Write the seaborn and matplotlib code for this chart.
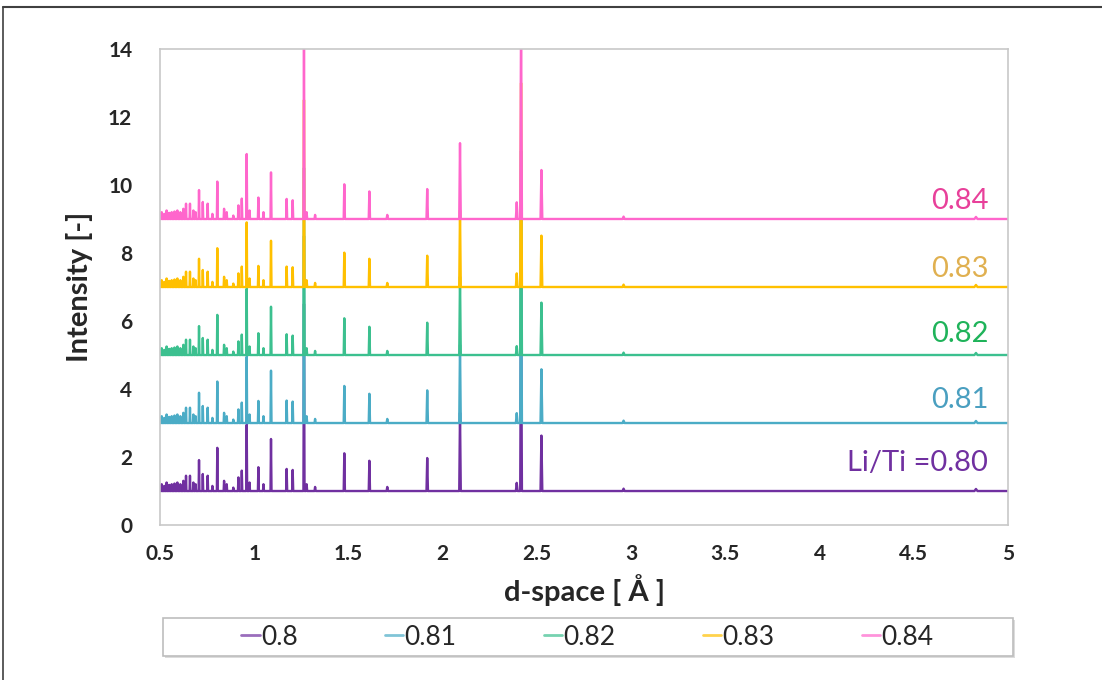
import numpy as np
import pandas as pd
import seaborn as sns
import matplotlib
matplotlib.use("Agg")
import matplotlib.pyplot as plt
from matplotlib.lines import Line2D
from matplotlib.patches import Rectangle

# Li/Ti ratios (one trace each), stacked with an offset of 2
ratios = ["0.8", "0.81", "0.82", "0.83", "0.84"]
offsets = [1, 3, 5, 7, 9]
end_labels = ["Li/Ti =0.80", "0.81", "0.82", "0.83", "0.84"]
label_y = [1.82, 3.68, 5.62, 7.53, 9.53]

line_colors = ["#7030a0", "#4bacc6", "#3cc08f", "#ffc000", "#ff66cc"]
text_colors = ["#7030a0", "#4a9fc0", "#1fb35a", "#e0b050", "#e8409a"]

# main reflections (d-space, A) and their heights above each baseline
d_major = [0.707, 0.804, 0.960, 1.022, 1.089, 1.172, 1.204, 1.264,
           1.478, 1.611, 1.918, 2.092, 2.393, 2.416, 2.524]
h_080 = [0.91, 1.27, 1.95, 0.70, 1.53, 0.65, 0.62, 5.5, 1.11, 0.89, 0.97, 2.30, 0.24, 6.0, 1.63]
h_081 = [0.89, 1.22, 1.95, 0.65, 1.54, 0.66, 0.63, 5.5, 1.09, 0.86, 0.96, 2.30, 0.29, 6.0, 1.58]
h_082 = [0.85, 1.18, 1.95, 0.64, 1.42, 0.61, 0.57, 5.5, 1.08, 0.83, 0.95, 2.30, 0.26, 6.0, 1.54]
h_083 = [0.83, 1.14, 1.90, 0.62, 1.36, 0.60, 0.58, 5.5, 1.01, 0.83, 0.92, 2.25, 0.40, 6.0, 1.51]
h_084 = [0.85, 1.10, 1.91, 0.63, 1.37, 0.59, 0.55, 5.5, 1.02, 0.81, 0.88, 2.23, 0.49, 6.0, 1.44]
heights = [h_080, h_081, h_082, h_083, h_084]

# small reflections, about the same in every trace
d_minor = [0.509, 0.522, 0.535, 0.548, 0.562, 0.577, 0.592, 0.608, 0.624, 0.638,
           0.659, 0.677, 0.689, 0.727, 0.753, 0.778, 0.840, 0.854, 0.889, 0.916,
           0.934, 0.975, 1.049, 1.278, 1.323, 1.706, 2.960, 4.830]
h_minor = [0.20, 0.15, 0.25, 0.18, 0.20, 0.22, 0.25, 0.20, 0.30, 0.45,
           0.45, 0.25, 0.20, 0.50, 0.45, 0.15, 0.30, 0.20, 0.10, 0.40,
           0.60, 0.25, 0.20, 0.20, 0.12, 0.12, 0.07, 0.06]

x_ticks = [0.5, 1, 1.5, 2, 2.5, 3, 3.5, 4, 4.5, 5]
x_ticklabels = ["0.5", "1", "1.5", "2", "2.5", "3", "3.5", "4", "4.5", "5"]
y_ticks = [0, 2, 4, 6, 8, 10, 12, 14]


def build_trace(base, major):
    """Stick-like trace: baseline, up to each peak top, back to baseline"""
    peaks = sorted(zip(d_major + d_minor, list(major) + h_minor))
    xs, ys = [0.5], [base]
    for d, h in peaks:
        w = 0.0012 + 0.0014 * d
        xs += [d - w, d, d + w]
        ys += [base, base + h, base]
    xs.append(5.0)
    ys.append(base)
    return xs, ys


frames = []
for ratio, base, major in zip(ratios, offsets, heights):
    xs, ys = build_trace(base, major)
    frames.append(pd.DataFrame({"d": xs, "intensity": ys, "ratio": ratio}))
df = pd.concat(frames, ignore_index=True)

sns.set_theme(style="white")
plt.rcParams["font.family"] = ["Lato", "DejaVu Sans"]

fig = plt.figure(figsize=(11.02, 6.8), dpi=100)
ax = fig.add_axes([0.1452, 0.2279, 0.7695, 0.7001])

sns.lineplot(data=df, x="d", y="intensity", hue="ratio", hue_order=ratios,
             palette=dict(zip(ratios, line_colors)), estimator=None, sort=False,
             linewidth=1.7, legend=False, ax=ax)

ax.set_xlim(0.5, 5)
ax.set_ylim(0, 14)
ax.set_xticks(x_ticks)
ax.set_xticklabels(x_ticklabels)
ax.set_yticks(y_ticks)
ax.set_yticks(range(0, 15), minor=True)
for lbl in ax.get_xticklabels() + ax.get_yticklabels():
    lbl.set_fontweight("bold")
    lbl.set_fontsize(15)
ax.tick_params(axis="both", which="both", direction="in", length=7,
               color="#bfbfbf", width=1)
ax.tick_params(axis="y", pad=20)
ax.tick_params(axis="x", pad=14)
for sp in ax.spines.values():
    sp.set_color("#c8c8c8")
    sp.set_linewidth(1.2)

ax.set_xlabel("d-space [ Å ]", fontsize=21, fontweight="bold", labelpad=7)
ax.set_ylabel("Intensity [-]", fontsize=21, fontweight="bold", labelpad=11)

for txt, y, c in zip(end_labels, label_y, text_colors):
    ax.text(4.895, y, txt, color=c, fontsize=21, ha="right", va="center")

# legend box drawn by hand so it spans the plot width
fig.patches.append(Rectangle((0.1497, 0.0323), 0.7710, 0.0559, transform=fig.transFigure,
                             facecolor="#dcdcdc", edgecolor="none", zorder=0))
fig.patches.append(Rectangle((0.1479, 0.0353), 0.7713, 0.0559, transform=fig.transFigure,
                             facecolor="white", edgecolor="#bdbdbd", linewidth=1.2, zorder=1))
handles = [Line2D([0], [0], color=c, lw=2.0, alpha=0.7) for c in line_colors]
fig.legend(handles, ratios, loc="center", bbox_to_anchor=(0.533, 0.063), ncol=5,
           frameon=False, fontsize=19, handlelength=0.7, handletextpad=0.05,
           columnspacing=3.3)

# screenshot frame on top and left edges
fig.add_artist(Line2D([0.003, 1.0], [0.990, 0.990], transform=fig.transFigure,
                      color="#404040", lw=1.5))
fig.add_artist(Line2D([0.003, 0.003], [0.0, 0.990], transform=fig.transFigure,
                      color="#404040", lw=1.2))

fig.savefig("out.png", dpi=100)
